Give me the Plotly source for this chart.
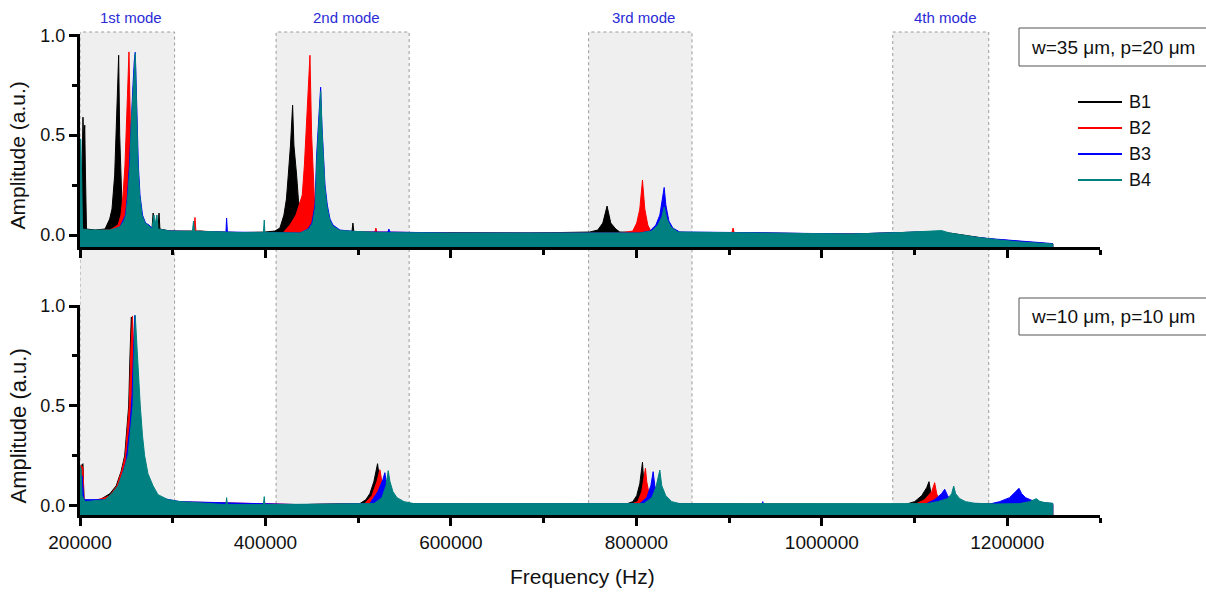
import plotly.graph_objects as go

# ---------------- data (frequency in Hz, amplitude in a.u.) ----------------
series_names = ["B1", "B2", "B3", "B4"]
series_colors = ["#000000", "#ff0000", "#0000ff", "#008080"]

# Top panel: w=35 um, p=20 um
top_b1 = [(200000, 0.02), (201100, 0.05), (202200, 0.45), (203200, 0.59), (204100, 0.45), (205100, 0.55),
          (205900, 0.3), (207000, 0.03), (216200, 0.025), (227000, 0.03), (232000, 0.08), (234500, 0.13),
          (237400, 0.3), (239100, 0.5), (240400, 0.7), (241700, 0.9), (242800, 0.5), (243900, 0.3),
          (245300, 0.15), (246400, 0.09), (248500, 0.06), (259300, 0.04), (270100, 0.03), (277600, 0.03),
          (278900, 0.11), (279800, 0.03), (284100, 0.03), (285200, 0.11), (286200, 0.03), (297000, 0.02),
          (318600, 0.015), (329400, 0.02), (345500, 0.012), (372500, 0.012), (399400, 0.015), (410200, 0.02),
          (415600, 0.035), (419900, 0.1), (422600, 0.18), (424600, 0.3), (427000, 0.45), (429300, 0.65),
          (430700, 0.45), (433600, 0.3), (435500, 0.18), (437900, 0.1), (440400, 0.04), (458700, 0.02),
          (485700, 0.015), (493200, 0.015), (494300, 0.06), (495400, 0.015), (523400, 0.01), (598900, 0.012),
          (685100, 0.01), (749800, 0.015), (758400, 0.025), (763800, 0.06), (768400, 0.145), (772400, 0.06),
          (777800, 0.03), (782100, 0.015), (846800, 0.01), (933000, 0.01), (1030100, 0.005), (1062400, 0.01),
          (1105500, 0.015), (1137900, 0.01), (1181000, -0.02), (1213300, -0.035), (1249000, -0.045)]
top_b2 = [(200000, 0.02), (232300, 0.025), (241000, 0.05), (244200, 0.1), (246400, 0.2), (248500, 0.35),
          (249900, 0.5), (251200, 0.7), (252800, 0.917), (254200, 0.5), (255000, 0.3), (256100, 0.15),
          (258200, 0.07), (262500, 0.04), (270100, 0.03), (297000, 0.02), (322900, 0.02), (324000, 0.088),
          (325000, 0.02), (372500, 0.012), (418800, 0.01), (426400, 0.05), (432900, 0.1), (439700, 0.2),
          (442000, 0.35), (443700, 0.5), (445800, 0.7), (448000, 0.9), (449800, 0.5), (451200, 0.3),
          (452600, 0.2), (454500, 0.05), (458800, 0.03), (469500, 0.02), (518000, 0.015), (519100, 0.035),
          (520200, 0.015), (598900, 0.01), (782100, 0.01), (796100, 0.02), (800400, 0.06), (803700, 0.13),
          (806600, 0.275), (809100, 0.13), (812300, 0.05), (815600, 0.02), (868400, 0.01), (902900, 0.01),
          (904300, 0.035), (905600, 0.01), (1030100, 0.005), (1105500, 0.012), (1181000, -0.02),
          (1249000, -0.045)]
top_b3 = [(200000, 0.02), (232300, 0.02), (243100, 0.04), (249100, 0.1), (251200, 0.2), (253300, 0.35),
          (255000, 0.56), (256800, 0.72), (258500, 0.87), (259600, 0.915), (260600, 0.75), (261800, 0.56),
          (262900, 0.35), (264700, 0.2), (267400, 0.1), (270700, 0.06), (274400, 0.05), (278700, 0.03),
          (297000, 0.02), (357400, 0.015), (358100, 0.085), (359000, 0.015), (394000, 0.012), (437200, 0.01),
          (445800, 0.03), (450100, 0.06), (453400, 0.15), (455200, 0.4), (457700, 0.6), (459500, 0.74),
          (460900, 0.55), (462300, 0.4), (464200, 0.25), (466700, 0.15), (469600, 0.08), (472800, 0.05),
          (480300, 0.025), (501800, 0.015), (532000, 0.015), (533100, 0.03), (534200, 0.015), (598900, 0.01),
          (803700, 0.01), (814500, 0.02), (821000, 0.05), (825300, 0.1), (828000, 0.18), (830000, 0.238),
          (831800, 0.15), (835100, 0.07), (839400, 0.035), (846800, 0.015), (922300, 0.012), (1030100, 0.005),
          (1105500, 0.015), (1181000, -0.018), (1249000, -0.043)]
top_b4 = [(200000, 0.48), (200800, 0.48), (201800, 0.3), (202700, 0.03), (210800, 0.025), (232300, 0.025),
          (243100, 0.04), (247400, 0.07), (249600, 0.1), (251700, 0.2), (253900, 0.35), (255300, 0.56),
          (257100, 0.7), (258500, 0.85), (259600, 0.91), (260400, 0.75), (261400, 0.56), (262500, 0.35),
          (264300, 0.2), (266800, 0.1), (270100, 0.06), (273300, 0.05), (277600, 0.03), (279800, 0.1),
          (280800, 0.05), (283000, 0.1), (284100, 0.03), (297000, 0.02), (321300, 0.02), (322400, 0.07),
          (323500, 0.02), (372500, 0.012), (397800, 0.012), (398700, 0.075), (399400, 0.012), (437200, 0.01),
          (447000, 0.03), (451000, 0.06), (453800, 0.14), (455500, 0.38), (457900, 0.58), (459600, 0.72),
          (460900, 0.53), (462200, 0.38), (464000, 0.24), (466400, 0.14), (469300, 0.075), (472500, 0.045),
          (480300, 0.022), (523400, 0.012), (598900, 0.01), (803700, 0.01), (816700, 0.02), (823200, 0.05),
          (827500, 0.09), (830000, 0.14), (832900, 0.08), (837200, 0.04), (844700, 0.015), (933000, 0.01),
          (1030100, 0.005), (1084000, 0.012), (1116300, 0.018), (1129200, 0.022), (1137900, 0.01),
          (1164800, -0.01), (1191800, -0.025), (1213300, -0.035), (1249000, -0.045)]

# Bottom panel: w=10 um, p=10 um
bot_b1 = [(200000, 0.05), (201100, 0.2), (203200, 0.21), (204300, 0.03), (210800, 0.02), (221600, 0.03),
          (226600, 0.045), (232300, 0.06), (239100, 0.1), (244200, 0.17), (248200, 0.25), (250700, 0.38),
          (252500, 0.5), (253900, 0.75), (255300, 0.945), (256600, 0.93), (258200, 0.5), (260400, 0.2),
          (264700, 0.1), (275500, 0.04), (297000, 0.02), (329400, 0.012), (437200, 0.005), (501800, 0.01),
          (508300, 0.03), (512600, 0.06), (516900, 0.12), (520900, 0.21), (522300, 0.15), (524500, 0.08),
          (528800, 0.03), (539600, 0.01), (652800, 0.005), (787500, 0.005), (796100, 0.02), (800400, 0.05),
          (803700, 0.11), (806600, 0.217), (808000, 0.12), (810100, 0.05), (814500, 0.02), (825300, 0.008),
          (976200, 0.003), (1089400, 0.005), (1100100, 0.02), (1107700, 0.05), (1113100, 0.09), (1115600, 0.12),
          (1117400, 0.07), (1120600, 0.03), (1127100, 0.01), (1181000, 0.008), (1195000, 0.015), (1202500, 0.02),
          (1213300, 0.01), (1249000, 0.005)]
bot_b2 = [(200000, 0.05), (201800, 0.2), (203200, 0.19), (204300, 0.03), (210800, 0.02), (227000, 0.04),
          (232300, 0.05), (239900, 0.1), (245300, 0.18), (248800, 0.25), (253100, 0.5), (255000, 0.8),
          (256600, 0.95), (258200, 0.7), (260400, 0.3), (264700, 0.12), (275500, 0.04), (297000, 0.02),
          (437200, 0.005), (507200, 0.01), (514800, 0.05), (520200, 0.12), (523400, 0.18), (525600, 0.12),
          (528800, 0.05), (534200, 0.02), (545000, 0.008), (792900, 0.005), (801500, 0.02), (805800, 0.07),
          (809800, 0.187), (811200, 0.12), (814500, 0.04), (819900, 0.01), (1100100, 0.005), (1110900, 0.03),
          (1118500, 0.07), (1121700, 0.115), (1123900, 0.06), (1127100, 0.02), (1137900, 0.008), (1249000, 0.005)]
bot_b3 = [(200000, 0.04), (202200, 0.15), (204300, 0.03), (232300, 0.03), (241000, 0.08), (249600, 0.22),
          (253900, 0.4), (256100, 0.55), (257700, 0.8), (259100, 0.953), (260400, 0.75), (262600, 0.45),
          (265800, 0.25), (270100, 0.13), (275500, 0.07), (284100, 0.04), (307800, 0.02), (437200, 0.005),
          (512600, 0.01), (521200, 0.07), (526600, 0.13), (528800, 0.165), (530900, 0.1), (534200, 0.05),
          (539600, 0.02), (550400, 0.008), (803700, 0.01), (811200, 0.04), (815600, 0.1), (818100, 0.17),
          (819900, 0.1), (823200, 0.04), (827500, 0.01), (935200, 0.005), (936300, 0.02), (937300, 0.005),
          (1110900, 0.005), (1121700, 0.03), (1129200, 0.06), (1132500, 0.082), (1135700, 0.05), (1140000, 0.02),
          (1148700, 0.01), (1181000, 0.008), (1191800, 0.02), (1202500, 0.04), (1209000, 0.07), (1212600, 0.087),
          (1215500, 0.06), (1219800, 0.04), (1229500, 0.02), (1249000, 0.01)]
bot_b4 = [(200000, 0.19), (201100, 0.19), (202200, 0.05), (205400, 0.02), (227000, 0.03), (234500, 0.06),
          (241000, 0.1), (247400, 0.18), (251700, 0.25), (255000, 0.4), (257100, 0.5), (258500, 0.8),
          (259600, 0.953), (261400, 0.8), (263600, 0.6), (265000, 0.5), (267400, 0.35), (269700, 0.25),
          (273300, 0.16), (278700, 0.1), (284100, 0.055), (294900, 0.03), (307800, 0.02), (329400, 0.012),
          (357400, 0.005), (358100, 0.04), (359000, 0.005), (397800, 0.005), (398700, 0.045), (399400, 0.005),
          (517000, 0.01), (525600, 0.04), (530000, 0.1), (532400, 0.175), (534300, 0.12), (537500, 0.07),
          (541800, 0.04), (549400, 0.02), (560200, 0.01), (808200, 0.01), (816700, 0.04), (821000, 0.09),
          (825300, 0.178), (827400, 0.1), (831700, 0.05), (838200, 0.02), (846800, 0.01), (1114000, 0.01),
          (1125000, 0.02), (1135700, 0.035), (1140000, 0.06), (1142200, 0.098), (1144300, 0.06), (1148700, 0.035),
          (1155100, 0.02), (1164800, 0.012), (1186400, 0.008), (1213300, 0.01), (1224100, 0.02), (1231300, 0.035),
          (1234900, 0.022), (1240300, 0.015), (1249000, 0.012)]

mode_labels = ["1st mode", "2nd mode", "3rd mode", "4th mode"]
mode_ranges = [(200000, 302000), (411500, 555000), (748500, 860000), (1076500, 1180000)]
mode_label_x = [255000, 487500, 808000, 1133300]

panel_labels = ["w=35 \u03bcm, p=20 \u03bcm", "w=10 \u03bcm, p=10 \u03bcm"]

x_ticks = [200000, 400000, 600000, 800000, 1000000, 1200000]
y_ticks = [0.0, 0.5, 1.0]

x_title = "Frequency (Hz)"
y_title = "Amplitude (a.u.)"

# ---------------- figure ----------------
FONT = "Liberation Sans, Arial, sans-serif"
W, H = 1206, 592
L, R = 80, 106

def py(px):  # pixel row -> paper y
    return 1 - px / H

def pxx(px):  # pixel col -> paper x
    return (px - L) / (W - L - R)

fig = go.Figure()

panels = [([top_b1, top_b2, top_b3, top_b4], "x", "y"),
          ([bot_b1, bot_b2, bot_b3, bot_b4], "x2", "y2")]
for data, xa, ya in panels:
    for pts, name, col in zip(data, series_names, series_colors):
        fx = [p[0] for p in pts]
        fy = [p[1] for p in pts]
        xs = [fx[0]] + fx + [fx[-1]]
        ys = [-0.3] + fy + [-0.3]
        fig.add_trace(go.Scatter(x=xs, y=ys, mode="lines", fill="toself", fillcolor=col,
                                 line=dict(color=col, width=1), name=name, showlegend=False,
                                 hoverinfo="skip", xaxis=xa, yaxis=ya))

shapes = []
annotations = []
for (x0, x1), lab, lx in zip(mode_ranges, mode_labels, mode_label_x):
    shapes.append(dict(type="rect", xref="x", yref="paper", x0=x0, x1=x1, y0=py(515), y1=py(32),
                       fillcolor="#efefef", line=dict(color="#9a9a9a", width=1, dash="dot"), layer="below"))
    annotations.append(dict(text=lab, xref="x", yref="paper", x=lx, y=py(18), showarrow=False,
                            font=dict(family=FONT, size=15, color="#2b2bd6"), xanchor="center", yanchor="middle"))

for lab, (top_px, bot_px) in zip(panel_labels, [(28, 66), (298, 335)]):
    shapes.append(dict(type="rect", xref="paper", yref="paper", x0=pxx(1019), x1=pxx(1230),
                       y0=py(bot_px), y1=py(top_px), fillcolor="white", line=dict(color="#555", width=1)))
    annotations.append(dict(text=lab, xref="paper", yref="paper", x=pxx(1029), y=py((top_px + bot_px) / 2),
                            showarrow=False, xanchor="left", yanchor="middle",
                            font=dict(family=FONT, size=19, color="#111")))

# legend drawn as line samples + labels
for i, (name, col) in enumerate(zip(series_names, series_colors)):
    cy = 102 + 26 * i
    shapes.append(dict(type="line", xref="paper", yref="paper", x0=pxx(1078), x1=pxx(1122),
                       y0=py(cy), y1=py(cy), line=dict(color=col, width=2)))
    annotations.append(dict(text=name, xref="paper", yref="paper", x=pxx(1127), y=py(cy), showarrow=False,
                            xanchor="left", yanchor="middle", font=dict(family=FONT, size=18, color="#111")))

# axis titles
for cy, size in [(156, 21), (426, 22)]:
    annotations.append(dict(text=y_title, xref="paper", yref="paper", x=pxx(17.5), y=py(cy), showarrow=False,
                            textangle=-90, xanchor="center", yanchor="middle",
                            font=dict(family=FONT, size=size, color="#111")))
annotations.append(dict(text=x_title, xref="paper", yref="paper", x=pxx(582.5), y=py(576), showarrow=False,
                        xanchor="center", yanchor="middle", font=dict(family=FONT, size=21, color="#111")))

axis_common = dict(showline=True, linewidth=3, linecolor="black", showgrid=False, zeroline=False,
                   ticks="outside", ticklen=8, tickwidth=2.5, tickcolor="black")
xcommon = dict(axis_common, range=[200000, 1300000], tickvals=x_ticks, tickformat="d",
               minor=dict(tick0=200000, dtick=100000, ticks="outside", ticklen=5, tickwidth=2.5, tickcolor="black"),
               tickfont=dict(family=FONT, size=19, color="#111"))
ycommon = dict(axis_common, tickvals=y_ticks, tickformat=".1f",
               minor=dict(tick0=0, dtick=0.25, ticks="outside", ticklen=5, tickwidth=2.5, tickcolor="black"),
               tickfont=dict(family=FONT, size=18, color="#111"))

fig.update_layout(
    width=W, height=H,
    margin=dict(l=L, r=R, t=0, b=0, autoexpand=False),
    paper_bgcolor="white", plot_bgcolor="rgba(0,0,0,0)",
    showlegend=False,
    xaxis=dict(xcommon, anchor="y", showticklabels=False),
    yaxis=dict(ycommon, anchor="x", domain=[py(247), py(34.3)], range=[-0.06, 1.005]),
    xaxis2=dict(xcommon, anchor="y2", matches="x"),
    yaxis2=dict(ycommon, anchor="x2", domain=[py(515), py(305)], range=[-0.047, 1.005]),
    shapes=shapes, annotations=annotations,
)

fig.write_html("out.html")
